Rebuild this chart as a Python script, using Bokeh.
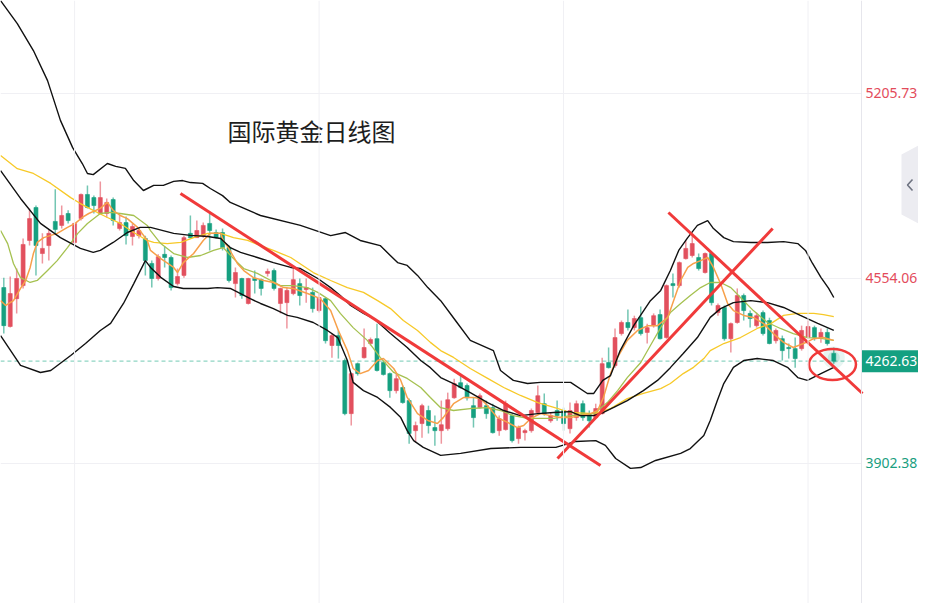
from bokeh.plotting import figure
from bokeh.models import Range1d, Span, ColumnDataSource
from bokeh.core.properties import value
from bokeh.embed import file_html
from bokeh.resources import INLINE

# ---------------- data (daily candles) ----------------
open_ = [4522, 4385, 4483, 4529, 4688, 4804, 4642, 4670, 4755, 4741,
         4783, 4681, 4765, 4850, 4839, 4783, 4783, 4832, 4730, 4751,
         4702, 4705, 4695, 4607, 4554, 4639, 4628, 4536, 4565, 4713,
         4698, 4705, 4748, 4716, 4716, 4663, 4536, 4554, 4466, 4554,
         4550, 4572, 4582, 4466, 4469, 4501, 4536, 4515, 4505, 4441,
         4483, 4318, 4353, 4265, 4078, 4254, 4275, 4325, 4342, 4258,
         4219, 4159, 4170, 4124, 4018, 4043, 4089, 4029, 4018, 4025,
         4134, 4187, 4177, 4106, 4099, 4106, 4099, 4018, 4022, 4071,
         3990, 4011, 4018, 4082, 4113, 4053, 4089, 4089, 4025, 4064,
         4113, 4078, 4064, 4078, 4258, 4247, 4360, 4399, 4381, 4416,
         4364, 4388, 4427, 4346, 4536, 4529, 4624, 4635, 4628, 4575,
         4642, 4434, 4452, 4342, 4399, 4494, 4431, 4388, 4434, 4406,
         4335, 4342, 4311, 4307, 4307, 4346, 4381, 4346, 4364, 4290]
high = [4557, 4561, 4589, 4695, 4801, 4811, 4713, 4727, 4868, 4811,
        4794, 4751, 4853, 4882, 4846, 4896, 4836, 4839, 4780, 4772,
        4748, 4730, 4705, 4617, 4639, 4667, 4635, 4589, 4705, 4776,
        4758, 4751, 4783, 4727, 4730, 4670, 4593, 4557, 4557, 4582,
        4554, 4589, 4589, 4522, 4522, 4600, 4554, 4554, 4522, 4501,
        4487, 4360, 4371, 4272, 4223, 4258, 4378, 4346, 4395, 4265,
        4223, 4219, 4177, 4131, 4050, 4113, 4106, 4071, 4124, 4152,
        4201, 4212, 4184, 4134, 4149, 4124, 4113, 4071, 4124, 4078,
        4036, 4025, 4096, 4177, 4149, 4082, 4124, 4099, 4117, 4124,
        4124, 4089, 4113, 4275, 4311, 4378, 4406, 4445, 4423, 4455,
        4395, 4431, 4445, 4533, 4572, 4614, 4688, 4705, 4642, 4646,
        4646, 4466, 4459, 4399, 4519, 4501, 4441, 4434, 4441, 4416,
        4378, 4353, 4325, 4346, 4388, 4406, 4388, 4378, 4378, 4311]
low = [4360, 4381, 4431, 4519, 4670, 4565, 4607, 4617, 4713, 4730,
       4748, 4670, 4758, 4801, 4783, 4780, 4769, 4741, 4723, 4674,
       4670, 4695, 4565, 4522, 4547, 4593, 4512, 4529, 4557, 4695,
       4698, 4698, 4653, 4695, 4653, 4540, 4487, 4483, 4462, 4501,
       4494, 4561, 4512, 4431, 4378, 4495, 4459, 4469, 4434, 4434,
       4325, 4275, 4272, 4072, 4036, 4212, 4272, 4318, 4226, 4212,
       4134, 4149, 4113, 3972, 3976, 3993, 4008, 3965, 3972, 4018,
       4130, 4166, 4124, 4029, 4096, 4060, 4008, 4000, 4018, 3976,
       3972, 3983, 4011, 4078, 4071, 4046, 4053, 4018, 4008, 4053,
       4053, 4029, 4060, 4075, 4237, 4240, 4353, 4371, 4371, 4353,
       4325, 4381, 4339, 4342, 4487, 4522, 4621, 4628, 4582, 4572,
       4459, 4423, 4335, 4293, 4395, 4406, 4381, 4381, 4353, 4322,
       4325, 4265, 4272, 4240, 4300, 4342, 4335, 4328, 4318, 4254]
close = [4388, 4501, 4554, 4674, 4765, 4670, 4660, 4713, 4727, 4776,
         4758, 4748, 4850, 4804, 4811, 4839, 4822, 4758, 4751, 4705,
         4737, 4723, 4617, 4554, 4631, 4628, 4522, 4561, 4698, 4698,
         4723, 4741, 4723, 4698, 4663, 4547, 4575, 4494, 4554, 4547,
         4519, 4579, 4519, 4519, 4512, 4550, 4494, 4522, 4448, 4487,
         4335, 4353, 4318, 4078, 4219, 4219, 4311, 4339, 4230, 4216,
         4159, 4201, 4117, 4008, 4036, 4106, 4036, 4018, 4039, 4127,
         4184, 4170, 4134, 4064, 4141, 4078, 4011, 4060, 4113, 3983,
         4029, 4018, 4089, 4141, 4078, 4071, 4071, 4043, 4089, 4113,
         4064, 4053, 4096, 4254, 4240, 4346, 4399, 4381, 4413, 4360,
         4381, 4423, 4342, 4529, 4529, 4610, 4660, 4677, 4589, 4642,
         4469, 4459, 4342, 4395, 4494, 4441, 4413, 4423, 4360, 4325,
         4371, 4300, 4307, 4272, 4371, 4385, 4346, 4364, 4325, 4262.63]

# Bollinger bands (candle index, price)
bb_up_x = [-0.5, 2.1, 4.6, 6.8, 8.8, 10.7, 12.2, 13.0, 13.9, 16.1, 17.4, 18.9, 20.2, 21.7, 23.3, 24.8,
           26.4, 27.8, 29.0, 30.9, 32.1, 34.0, 35.2, 39.9, 46.1, 50.8, 53.1, 55.4, 58.5, 61.2, 62.7,
           64.3, 65.9, 67.9, 70.2, 72.5, 76.1, 77.2, 79.2, 81.4, 83.4, 88.1, 90.7, 91.7, 93.1, 94.3,
           95.8, 97.9, 100.5, 102.1, 103.6, 104.9, 106.3, 107.8, 109.4, 110.3, 111.9, 113.4, 116.1,
           118.7, 121.2, 123.4, 124.6, 125.7, 127.0, 128.2, 129.0]
bb_up_y = [5533, 5452, 5357, 5251, 5111, 5015, 4959, 4924, 4920, 4959, 4949, 4942, 4899, 4864, 4882, 4882,
           4896, 4899, 4892, 4889, 4871, 4846, 4822, 4776, 4741, 4705, 4716, 4688, 4670, 4610, 4600,
           4565, 4522, 4476, 4406, 4336, 4300, 4230, 4195, 4184, 4188, 4188, 4149, 4149, 4195, 4212,
           4300, 4388, 4476, 4512, 4582, 4653, 4698, 4741, 4758, 4730, 4698, 4684, 4681,
           4681, 4684, 4677, 4653, 4607, 4558, 4519, 4487]
bb_mid_x = [-0.5, 2.6, 5.7, 8.8, 11.9, 13.9, 15.0, 17.0, 19.2, 21.2, 22.8, 26.4, 29.0, 31.7, 33.7,
            35.2, 36.8, 39.4, 41.9, 44.6, 46.1, 48.8, 50.8, 52.3, 53.9, 55.9, 57.5, 60.1, 62.7, 64.8,
            66.3, 67.9, 69.9, 72.5, 75.2, 77.7, 80.3, 83.0, 85.5, 88.1, 89.6, 91.7, 93.2, 94.8, 96.9,
            99.4, 101.6, 103.6, 105.6, 107.8, 109.8, 111.4, 113.4, 116.1, 118.7, 121.2, 123.8, 126.5, 129.0]
bb_mid_y = [4934, 4836, 4748, 4698, 4660, 4646, 4653, 4681, 4716, 4734, 4734, 4713, 4706, 4702, 4695,
            4663, 4646, 4628, 4610, 4593, 4589, 4554, 4522, 4494, 4459, 4431, 4413, 4360, 4311, 4265,
            4240, 4205, 4184, 4152, 4117, 4089, 4071, 4078, 4082, 4085, 4071, 4071, 4082, 4100, 4124,
            4159, 4195, 4240, 4290, 4346, 4417, 4448, 4469, 4476, 4469, 4452, 4424, 4396, 4371]
bb_low_x = [-0.5, 2.6, 5.7, 7.3, 10.4, 12.7, 15.0, 16.6, 18.6, 20.2, 22.0, 22.8, 24.4, 26.4, 27.9,
            31.7, 33.2, 35.2, 36.8, 38.3, 39.9, 41.9, 44.1, 45.6, 48.1, 50.3, 51.9, 53.4, 54.3, 55.9,
            58.1, 60.1, 61.7, 62.7, 63.7, 65.2, 67.9, 71.0, 75.7, 80.3, 85.8, 88.9, 92.0, 93.5, 95.1,
            97.4, 99.0, 101.3, 105.2, 106.7, 108.8, 109.8, 110.9, 111.9, 113.4, 115.0, 117.1, 119.6,
            121.8, 123.4, 124.9, 127.0, 129.0]
bb_low_y = [4353, 4248, 4223, 4230, 4283, 4325, 4371, 4396, 4466, 4536, 4617, 4593, 4558, 4526, 4519,
            4519, 4522, 4519, 4501, 4483, 4466, 4448, 4424, 4417, 4399, 4371, 4346, 4265, 4188, 4159,
            4135, 4100, 4064, 4018, 3983, 3959, 3931, 3938, 3955, 3959, 3959, 3980, 3983, 3966, 3920,
            3885, 3888, 3913, 3938, 3955, 4001, 4054, 4124, 4184, 4241, 4265, 4272, 4265,
            4241, 4205, 4195, 4219, 4241]

# moving averages (candle index, price)
ma_fast_x = [-0.5, 0.3, 1.5, 2.6, 3.4, 4.1, 4.6, 5.2, 6.2, 7.3,
             8.3, 9.9, 11.1, 12.2, 13.2, 15.0, 16.1, 17.0, 18.1, 19.2,
             20.8, 22.3, 22.8, 24.4, 26.4, 27.0, 27.9, 29.5, 31.0, 32.1,
             33.7, 34.1, 34.9, 36.3, 37.3, 38.8, 40.4, 41.9, 43.5, 45.0,
             47.2, 49.2, 50.8, 52.0, 53.4, 54.3, 55.4, 56.7, 58.1, 59.0,
             60.6, 61.7, 62.7, 64.3, 65.9, 67.4, 68.3, 69.9, 71.5, 73.0,
             74.1, 75.2, 76.7, 78.3, 79.8, 80.8, 81.9, 83.4, 85.0, 86.5,
             88.1, 91.2, 92.3, 93.2, 94.3, 95.4, 96.9, 98.5, 100.1, 101.6,
             103.2, 104.1, 105.2, 106.3, 107.2, 108.3, 109.4, 110.3, 111.4, 112.5,
             113.4, 115.0, 116.5, 118.1, 119.6, 121.2, 122.7, 124.3, 125.9, 127.4, 129.0]
ma_fast_y = [4476, 4459, 4476, 4519, 4547, 4593, 4642, 4681, 4698, 4706,
             4713, 4734, 4748, 4769, 4783, 4801, 4822, 4794, 4776, 4765,
             4734, 4688, 4653, 4624, 4593, 4575, 4610, 4642, 4688, 4713,
             4713, 4688, 4663, 4607, 4582, 4557, 4547, 4540, 4522, 4519,
             4501, 4483, 4441, 4371, 4300, 4237, 4219, 4230, 4265, 4272,
             4237, 4195, 4135, 4078, 4054, 4043, 4064, 4113, 4135, 4135,
             4131, 4106, 4064, 4047, 4029, 4036, 4061, 4078, 4071, 4064,
             4064, 4078, 4089, 4135, 4219, 4276, 4336, 4371, 4388, 4388,
             4417, 4476, 4547, 4593, 4607, 4617, 4628, 4593, 4536, 4466,
             4441, 4424, 4417, 4395, 4360, 4329, 4311, 4325, 4342, 4346, 4336]
ma_mid_x = [-0.5, 0.6, 1.5, 2.6, 4.1, 5.2, 6.8, 8.3, 9.9, 11.5,
            13.0, 15.0, 16.6, 18.1, 20.2, 22.3, 22.8, 24.4, 26.4, 28.5,
            30.6, 32.6, 34.1, 35.7, 37.3, 39.4, 41.5, 43.0, 45.0, 47.2,
            48.8, 50.8, 52.3, 54.3, 56.5, 58.5, 60.6, 62.7, 64.8, 66.3,
            67.9, 69.9, 72.5, 75.2, 77.2, 79.2, 81.4, 83.4, 85.5, 88.1,
            91.7, 93.8, 95.4, 96.9, 99.0, 100.5, 102.1, 103.6, 105.2, 106.7,
            108.3, 109.8, 111.4, 113.0, 114.5, 116.5, 118.7, 120.7, 122.7, 124.9, 127.0, 129.0]
ma_mid_y = [4723, 4677, 4607, 4557, 4540, 4547, 4582, 4617, 4663, 4713,
            4748, 4783, 4787, 4783, 4776, 4741, 4723, 4677, 4642, 4628,
            4635, 4653, 4663, 4624, 4589, 4572, 4547, 4529, 4529, 4522,
            4505, 4476, 4431, 4381, 4336, 4276, 4223, 4202, 4170, 4135,
            4099, 4089, 4096, 4099, 4089, 4071, 4061, 4061, 4061, 4071,
            4078, 4117, 4159, 4205, 4258, 4318, 4381, 4434, 4466, 4494,
            4522, 4540, 4540, 4522, 4487, 4441, 4399, 4378, 4360, 4346, 4343, 4336]
ma_slow_x = [-0.5, 2.1, 4.6, 7.3, 10.4, 11.9, 13.9, 16.1, 18.1, 20.2,
             22.3, 23.3, 25.4, 27.5, 29.5, 31.7, 33.7, 35.7, 37.9, 39.9,
             41.9, 44.6, 48.1, 50.8, 53.4, 55.9, 58.1, 60.1, 62.1,
             64.3, 66.3, 67.9, 69.9, 72.5, 75.2, 77.7, 80.3, 83.0, 85.5,
             88.1, 91.7, 94.3, 96.9, 99.4, 102.1, 103.6, 105.6, 107.2, 108.8,
             109.8, 111.9, 114.5, 117.1, 119.2, 121.2, 123.4, 125.9, 127.4, 129.0]
ma_slow_y = [4987, 4941, 4924, 4889, 4839, 4818, 4794, 4769, 4748, 4716,
             4688, 4681, 4677, 4681, 4698, 4713, 4713, 4698, 4688, 4670,
             4653, 4628, 4575, 4547, 4522, 4505, 4476, 4448, 4406,
             4371, 4329, 4300, 4276, 4237, 4202, 4170, 4142, 4117, 4100,
             4082, 4078, 4096, 4131, 4149, 4166, 4184, 4219, 4241, 4272,
             4300, 4325, 4346, 4378, 4395, 4424, 4431, 4431, 4427, 4420]

# hand-drawn trend lines and circle (candle index, price)
trend_x = [[27.46, 92.74], [86.06, 119.5], [103.3, 133.46]]
trend_y = [[4853.4, 3895.3], [3919.9, 4730.1], [4786.5, 4148.9]]
circle_x, circle_y, circle_w, circle_h = 128.8, 4251.0, 7.3, 109.0

price_marks = [5205.73, 4554.06, 3902.38]
price_mark_labels = ["5205.73", "4554.06", "3902.38"]
last_price = 4262.63
last_price_label = "4262.63"
month_ticks = [11, 49, 87, 125]
title_text = "国际黄金日线图"

# ---------------- layout helpers (figure pixels -> data) ----------------
W, H = 918, 603
X0 = -0.513          # candle index at the left edge
XPP = 1 / 6.434      # candle index per pixel
P0 = 5533.3          # price at the top edge
PPP = 3.5226         # price per pixel


def px(x_pix):
    return X0 + x_pix * XPP


def py(y_pix):
    return P0 - PPP * y_pix


RED = "#e2505e"
GREEN = "#16a080"

p = figure(width=W, height=H,
           x_range=Range1d(X0, px(W)),
           y_range=Range1d(py(H), py(0)),
           output_backend="svg", toolbar_location=None, min_border=0,
           x_axis_location=None, y_axis_location=None,
           outline_line_color=None, background_fill_color="white",
           border_fill_color="white")
p.grid.visible = False

border_x = px(861)

# grid
for t in month_ticks:
    p.add_layout(Span(location=t, dimension="height", line_color="#f0f0f4", line_width=1))
p.segment(x0=[X0] * len(price_marks), y0=price_marks, x1=[border_x] * len(price_marks),
          y1=price_marks, line_color="#f0f0f4", line_width=1)
p.add_layout(Span(location=border_x, dimension="height", line_color="#e6e6ec", line_width=1))

# last price dashed line
p.line([X0, border_x], [last_price, last_price], line_color="#8fd5c3", line_width=1.3,
       line_dash="4 3")

# candles
idx = list(range(len(close)))
cols = [RED if c > o else GREEN for o, c in zip(open_, close)]
src = ColumnDataSource(dict(x=idx, o=open_, h=high, l=low, c=close,
                            top=[max(o, c) for o, c in zip(open_, close)],
                            bot=[min(o, c) for o, c in zip(open_, close)],
                            col=cols))
p.segment(x0="x", y0="h", x1="x", y1="l", source=src, line_color="col",
          line_width=1.5, line_alpha=0.6)
p.vbar(x="x", width=0.62, top="top", bottom="bot", source=src, fill_color="col",
       line_color="col", line_width=0.6)

# glow on last candle
p.scatter([idx[-1]], [4276], size=22, fill_color=GREEN, fill_alpha=0.10, line_color=None)
p.scatter([idx[-1]], [4276], size=12, fill_color=GREEN, fill_alpha=0.15, line_color=None)

# indicators
p.line(ma_slow_x, ma_slow_y, line_color="#f7c928", line_width=1.3)
p.line(ma_mid_x, ma_mid_y, line_color="#a5c150", line_width=1.3)
p.line(ma_fast_x, ma_fast_y, line_color="#f7a04a", line_width=1.5)
for bx, by in ((bb_up_x, bb_up_y), (bb_mid_x, bb_mid_y), (bb_low_x, bb_low_y)):
    p.line(bx, by, line_color="#111111", line_width=1.4)

# analyst annotations
p.multi_line(trend_x, trend_y, line_color="#f03a3a", line_width=3)
p.ellipse(x=[circle_x], y=[circle_y], width=circle_w, height=circle_h,
          fill_color=None, line_color="#f03a3a", line_width=2.5)

# right price scale labels
p.text(x=[px(865)] * len(price_marks), y=price_marks, text=price_mark_labels,
       text_color=["#e34b5b", "#e34b5b", "#1a9e80"], text_font=value("Noto Sans"),
       text_font_size="14px", text_baseline="middle", text_align="left")
p.quad(left=[border_x], right=[px(W) + 1], bottom=[last_price - 38.7],
       top=[last_price + 38.7], fill_color="#14a081", line_color=None)
p.text(x=[px(865)], y=[last_price], text=[last_price_label], text_color="white",
       text_font=value("Noto Sans"), text_font_size="14px", text_baseline="middle",
       text_align="left")

# collapse tab
p.patch([px(901), px(918), px(918), px(901)], [py(154), py(145), py(223), py(214)],
        fill_color="#ececf1", line_color=None)
p.line([px(912), px(907), px(912)], [py(179), py(184.5), py(190)], line_color="#6e7381",
       line_width=1.6)

# title
p.text(x=[px(227)], y=[py(130)], text=[title_text], text_color="#1e1e1e",
       text_font=value("Noto Sans CJK SC"), text_font_size="24px",
       text_baseline="middle", text_align="left")

open("out.html", "w").write(file_html(p, INLINE))
